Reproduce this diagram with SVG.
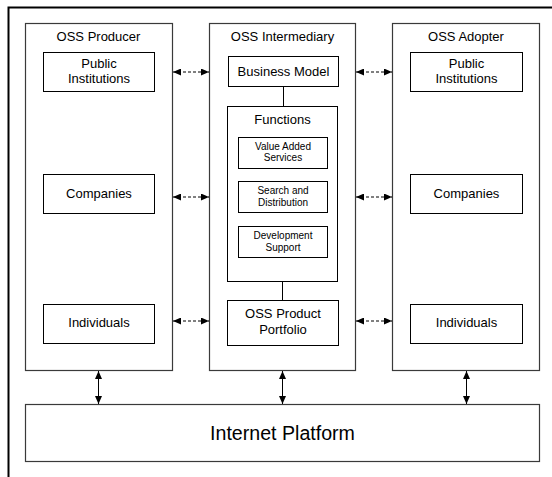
<svg xmlns="http://www.w3.org/2000/svg" width="552" height="477" viewBox="0 0 552 477">
<style>
text{font-family:"Liberation Sans",Arial,sans-serif;fill:#000;text-anchor:middle}
.t{font-size:13px}
.s{font-size:10px}
.big{font-size:19.6px}
.outer{fill:#fff;stroke:#3a3a3a;stroke-width:1.2}
.inner{fill:#fff;stroke:#000;stroke-width:1}
.dash{stroke:#000;stroke-width:1;stroke-dasharray:3,2;fill:none}
.solid{stroke:#000;stroke-width:1;fill:none}
</style>
<defs>
<marker id="ah" markerUnits="userSpaceOnUse" markerWidth="8" markerHeight="7" refX="8" refY="3.5" orient="auto-start-reverse" viewBox="0 0 8 7">
<path d="M0,0 L8,3.5 L0,7 z" fill="#000"/>
</marker>
</defs>
<rect width="552" height="477" fill="#fff"/>
<g id="frame">
<path d="M8.5,477 V7.5 H552" fill="none" stroke="#000" stroke-width="2"/>
</g>
<g id="producer">
<rect class="outer" x="25.5" y="23.5" width="147" height="347"/>
<text class="t" x="98.5" y="41">OSS Producer</text>
</g>
<g id="producer-public">
<rect class="inner" x="43.5" y="52.5" width="111" height="39"/>
<text class="t" x="99" y="68">Public</text>
<text class="t" x="99" y="82.5">Institutions</text>
</g>
<g id="producer-companies">
<rect class="inner" x="43.5" y="174.5" width="111" height="39"/>
<text class="t" x="99" y="198">Companies</text>
</g>
<g id="producer-individuals">
<rect class="inner" x="43.5" y="304.5" width="111" height="39"/>
<text class="t" x="99" y="327">Individuals</text>
</g>
<g id="intermediary">
<rect class="outer" x="209.5" y="23.5" width="146" height="347"/>
<text class="t" x="282.5" y="41">OSS Intermediary</text>
</g>
<g id="business-model">
<rect class="inner" x="228.5" y="56.5" width="110" height="30"/>
<text class="t" x="283.5" y="76">Business Model</text>
</g>
<g id="functions">
<rect class="inner" x="227.5" y="106.5" width="110" height="175"/>
<text class="t" x="282.5" y="124">Functions</text>
</g>
<g id="value-added">
<rect class="inner" x="238.5" y="137.5" width="89" height="31"/>
<text class="s" x="283" y="149.5">Value Added</text>
<text class="s" x="283" y="161">Services</text>
</g>
<g id="search">
<rect class="inner" x="238.5" y="181.5" width="89" height="31"/>
<text class="s" x="283" y="193.5">Search and</text>
<text class="s" x="283" y="205.5">Distribution</text>
</g>
<g id="development">
<rect class="inner" x="238.5" y="226.5" width="89" height="31"/>
<text class="s" x="283" y="238.5">Development</text>
<text class="s" x="283" y="250.5">Support</text>
</g>
<g id="portfolio">
<rect class="inner" x="227.5" y="300.5" width="111" height="45"/>
<text class="t" x="283" y="318">OSS Product</text>
<text class="t" x="283" y="334">Portfolio</text>
</g>
<g id="adopter">
<rect class="outer" x="392.5" y="23.5" width="147" height="347"/>
<text class="t" x="466" y="41">OSS Adopter</text>
</g>
<g id="adopter-public">
<rect class="inner" x="410.5" y="52.5" width="112" height="39"/>
<text class="t" x="466.5" y="68">Public</text>
<text class="t" x="466.5" y="82.5">Institutions</text>
</g>
<g id="adopter-companies">
<rect class="inner" x="410.5" y="174.5" width="112" height="39"/>
<text class="t" x="466.5" y="198">Companies</text>
</g>
<g id="adopter-individuals">
<rect class="inner" x="410.5" y="304.5" width="112" height="39"/>
<text class="t" x="466.5" y="327">Individuals</text>
</g>
<g id="internet-platform">
<rect class="outer" x="25.5" y="404.5" width="514" height="57"/>
<text class="big" x="282.5" y="440">Internet Platform</text>
</g>
<g id="connectors">
<line class="solid" x1="283.5" y1="86.5" x2="283.5" y2="106.5"/>
<line class="solid" x1="282.5" y1="281.5" x2="282.5" y2="300.5"/>
<line class="dash" x1="173" y1="72" x2="209" y2="72" marker-start="url(#ah)" marker-end="url(#ah)"/>
<line class="dash" x1="173" y1="197" x2="209" y2="197" marker-start="url(#ah)" marker-end="url(#ah)"/>
<line class="dash" x1="173" y1="321" x2="209" y2="321" marker-start="url(#ah)" marker-end="url(#ah)"/>
<line class="dash" x1="356" y1="72" x2="392" y2="72" marker-start="url(#ah)" marker-end="url(#ah)"/>
<line class="dash" x1="356" y1="197" x2="392" y2="197" marker-start="url(#ah)" marker-end="url(#ah)"/>
<line class="dash" x1="356" y1="321" x2="392" y2="321" marker-start="url(#ah)" marker-end="url(#ah)"/>
<line class="solid" x1="98.5" y1="371" x2="98.5" y2="404" marker-start="url(#ah)" marker-end="url(#ah)"/>
<line class="solid" x1="282.5" y1="371" x2="282.5" y2="404" marker-start="url(#ah)" marker-end="url(#ah)"/>
<line class="solid" x1="466.5" y1="371" x2="466.5" y2="404" marker-start="url(#ah)" marker-end="url(#ah)"/>
</g>
</svg>
